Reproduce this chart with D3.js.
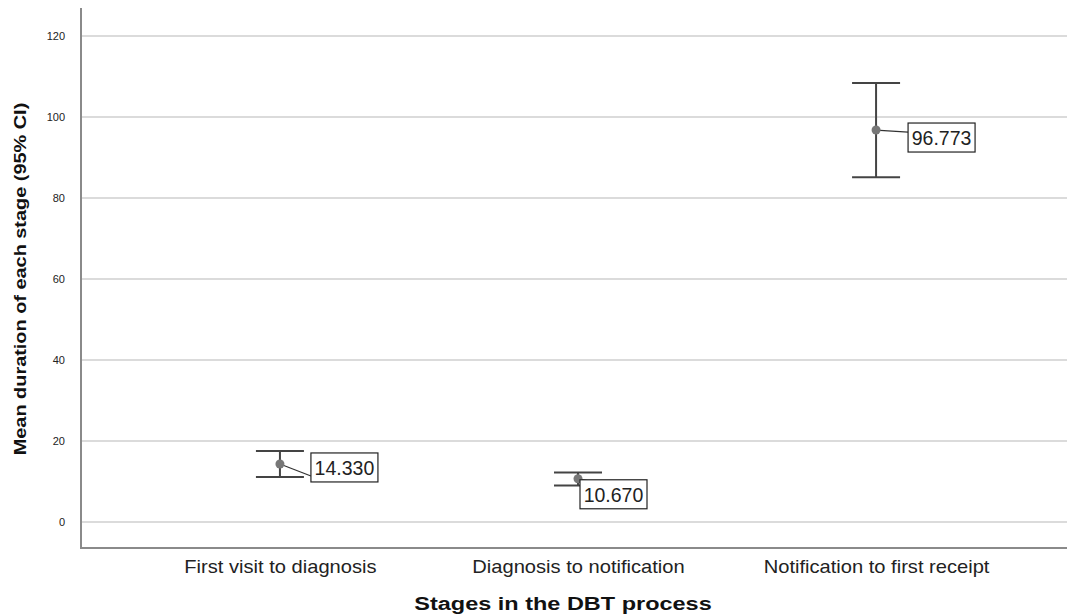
<!DOCTYPE html>
<html><head><meta charset="utf-8">
<script src="https://cdn.jsdelivr.net/npm/d3@7/dist/d3.min.js"></script>
<style>body{margin:0;background:#fff;} svg{display:block;font-family:Arial,"Liberation Sans",sans-serif;}</style>
</head><body>
<svg id="c" width="1067" height="614"></svg>
<script>
const categories = ["First visit to diagnosis", "Diagnosis to notification", "Notification to first receipt"];
const means = [14.330, 10.670, 96.773];
const upper = [17.5, 12.2, 108.4];
const lower = [11.1, 9.0, 85.1];
const meanLabels = ["14.330", "10.670", "96.773"];
const yTicks = [0, 20, 40, 60, 80, 100, 120];

// label placement relative to point (px): box offset and leader-line end
const labelLayout = [
  {bx: 31, by: -11, lx: 31, ly: 12},
  {bx: 2, by: 1, lx: 22, ly: 4},
  {bx: 32, by: -7, lx: 32, ly: 2}
];

const svg = d3.select("#c");
const L = 81, R = 1067, T = 8, B = 548;
const x = d3.scalePoint().domain(categories).range([L + 4, R + 4]).padding(0.654);
const y = d3.scaleLinear().domain([-6.42, 126.9]).range([B, T]);

// gridlines
svg.append("g").selectAll("line").data(yTicks).join("line")
  .attr("x1", L).attr("x2", R)
  .attr("y1", d => y(d)).attr("y2", d => y(d))
  .attr("stroke", "#cfcfcf").attr("stroke-width", 1.5);

// y axis
const yAxis = d3.axisLeft(y).tickValues(yTicks).tickSize(0).tickPadding(16);
const gy = svg.append("g").attr("transform", `translate(${L},0)`).call(yAxis);
gy.select(".domain").remove();
gy.selectAll("text").attr("font-size", 11).attr("fill", "#222").attr("font-family", "Arial, 'Liberation Sans', sans-serif");

// x axis
const xAxis = d3.axisBottom(x).tickSize(0).tickPadding(13);
const gx = svg.append("g").attr("transform", `translate(0,${B})`).call(xAxis);
gx.select(".domain").remove();
gx.selectAll("text").attr("font-size", 17.5).attr("fill", "#222")
  .attr("font-family", "Arial, 'Liberation Sans', sans-serif")
  .attr("transform", "scale(1.15,1)");

// axis lines
svg.append("line").attr("x1", L).attr("x2", L).attr("y1", T).attr("y2", B + 1)
  .attr("stroke", "#8a8a8a").attr("stroke-width", 2);
svg.append("line").attr("x1", L).attr("x2", R).attr("y1", B).attr("y2", B)
  .attr("stroke", "#8a8a8a").attr("stroke-width", 2);

// error bars
const capW = 24;
const g = svg.append("g");
categories.forEach((c, i) => {
  const cx = x(c);
  g.append("line").attr("x1", cx).attr("x2", cx).attr("y1", y(upper[i])).attr("y2", y(lower[i]))
    .attr("stroke", "#444").attr("stroke-width", 2);
  [upper[i], lower[i]].forEach(v => {
    g.append("line").attr("x1", cx - capW).attr("x2", cx + capW).attr("y1", y(v)).attr("y2", y(v))
      .attr("stroke", "#444").attr("stroke-width", 2);
  });
  const my = y(means[i]);
  const lay = labelLayout[i];
  g.append("line").attr("x1", cx).attr("y1", my).attr("x2", cx + lay.lx).attr("y2", my + lay.ly)
    .attr("stroke", "#333").attr("stroke-width", 1.2);
  g.append("circle").attr("cx", cx).attr("cy", my).attr("r", 4.5).attr("fill", "#777");
  g.append("rect").attr("x", cx + lay.bx).attr("y", my + lay.by).attr("width", 67).attr("height", 29)
    .attr("fill", "#fff").attr("stroke", "#222").attr("stroke-width", 1.2);
  g.append("text").attr("x", cx + lay.bx + 33.5).attr("y", my + lay.by + 22)
    .attr("text-anchor", "middle").attr("font-size", 19.5).attr("fill", "#222").text(meanLabels[i]);
});

// titles
svg.append("text").attr("transform", "translate(563,610) scale(1.27,1)").attr("text-anchor", "middle")
  .attr("font-size", 18.5).attr("font-weight", "bold").attr("fill", "#111").text("Stages in the DBT process");
svg.append("text").attr("transform", "translate(26,279) rotate(-90) scale(1.17,1)").attr("text-anchor", "middle")
  .attr("font-size", 17).attr("font-weight", "bold").attr("fill", "#111").text("Mean duration of each stage (95% CI)");
</script>
</body></html>
